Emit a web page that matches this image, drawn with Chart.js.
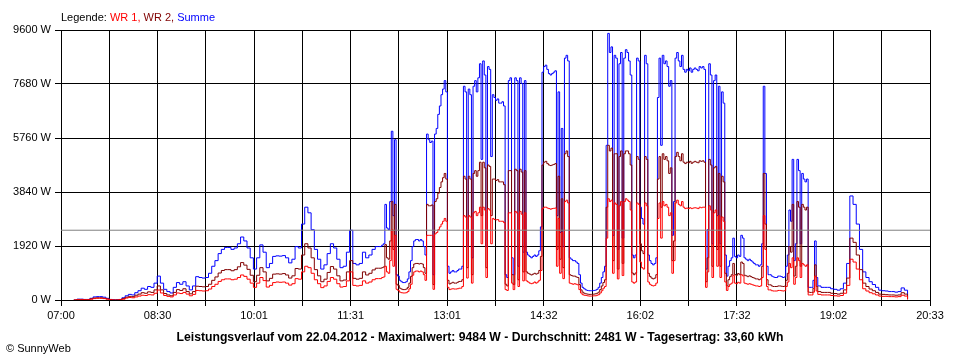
<!DOCTYPE html>
<html><head><meta charset="utf-8">
<script src="https://cdn.jsdelivr.net/npm/chart.js@4/dist/chart.umd.min.js"></script>
<style>html,body{margin:0;padding:0;background:#fff;}</style>
</head><body>
<canvas id="c" width="960" height="360" style="display:block"></canvas>
<script>
// Sampling grid: [first, last, step] in minutes after 07:00 (finer where the curve is spiky)
const sampleSegments = [[12, 297, 3], [300, 708, 1.5], [711, 792, 3]];
const X_MAX_MIN = 813; // 20:33
const xTickLabels = ['07:00','08:30','10:01','11:31','13:01','14:32','16:02','17:32','19:02','20:33'];
const yTickMax = 9600;
const yTickStep = 1920;
const average = 2481;
const legendParts = [['Legende: ', '#000000'], ['WR 1, ', '#FF0000'], ['WR 2, ', '#800000'], ['Summe', '#0000FF']];
const titleText = 'Leistungsverlauf vom 22.04.2012 - Maximalwert: 9484 W - Durchschnitt: 2481 W - Tagesertrag: 33,60 kWh';
const footerText = '\u00A9 SunnyWeb';

const summe = [
// 07:12 - 11:57 (3 min)
0,30,30,20,20,60,110,120,120,100,
60,20,10,10,20,80,150,200,180,260,
330,420,380,480,450,600,850,600,380,300,
250,450,620,560,650,500,360,500,830,800,
780,800,950,1200,1400,1650,1800,1870,1870,1800,
1850,2000,2240,2100,1850,1500,1100,1500,1960,1700,
1150,1300,1550,1570,1560,1580,1500,1320,1450,1900,
1850,2700,3300,3100,2500,1800,1450,1100,1250,1650,
2000,1850,1450,1150,1200,1700,2480,1300,1250,1300,
1700,1500,1600,1800,1900,1900,
// 12:00 - 18:48 (1.5 min)
1950,2000,3400,2560,2500,3500,6000,3000,5700,900,
850,700,650,620,620,650,750,1000,1400,1900,
2100,2150,2150,2100,2150,2100,1900,1600,5900,5700,
5600,5650,900,5900,6100,6600,6900,7300,7500,7800,
7400,1200,950,1000,1050,1000,1000,1050,1100,1100,
1200,7600,7400,1900,7500,7300,1500,7600,7800,7400,
7900,8400,5000,8500,8000,1900,8300,8200,5100,7300,
7200,7100,7150,7000,7000,7050,6900,900,800,7800,
7900,1500,900,7900,7800,1200,7900,7700,1700,7800,
1700,1600,1550,1500,1550,1600,1550,1600,1750,2600,
8100,8300,8350,8200,8050,8000,8050,8100,8150,3000,
7400,2400,6100,1900,8600,8700,8500,1500,1450,1400,
1400,1350,1300,900,600,450,400,360,340,330,
330,330,340,350,380,450,600,800,1000,1200,
5500,9480,8800,9000,2300,8700,8600,1800,8400,8800,
2200,8600,8900,8800,8500,8000,1600,1500,1600,8600,
8500,3300,2900,2700,8700,8400,1600,1400,1300,1250,
1300,1500,7200,8600,5500,8700,8400,8500,8300,7600,
7800,2300,3500,8600,8800,8500,8300,8700,8200,8100,
8200,8150,8250,8100,8200,8250,8200,8150,8300,8250,
8300,8200,1100,2500,8400,8000,2000,7800,8000,3000,
7600,2000,7400,7000,1600,850,1200,1400,1500,2200,
1550,1500,1600,1550,2300,2200,1500,1450,1400,1450,
1400,1350,1300,1250,1250,1200,1250,2000,7600,4500,
1200,
900,900,850,820,800,800,850,850,830,800,
820,1200,1600,3200,2800,5000,1400,2000,5000,4600,
2000,4500,4300,4200,4300,450,450,450,700,2100,
800,500,
// 18:51 - 20:12 (3 min)
450,450,450,400,380,350,400,
600,1300,3700,3400,2700,1800,1000,800,650,550,
450,350,330,320,300,300,280,300,430,350,
50
];

const wr2 = [
0,20,20,10,10,40,70,80,80,60,
40,10,0,0,10,50,100,130,120,170,
210,260,240,290,270,360,500,360,230,180,
150,270,370,340,400,300,220,300,490,480,
470,480,560,700,820,960,1050,1080,1080,1040,
1080,1180,1330,1240,1090,880,650,880,1150,1000,
680,770,920,930,920,940,890,780,860,1120,
1100,1600,2000,1850,1500,1080,860,650,740,980,
1190,1100,860,680,710,1000,1400,770,740,770,
1000,890,950,1070,1130,1130,
1150,1180,1970,1500,1450,2100,3500,1800,3400,560,
520,420,390,370,370,390,450,600,840,1150,
1280,1300,1300,1280,1300,1280,1150,950,3400,3350,
3350,3380,550,3500,3600,3800,4000,4200,4350,4500,
4300,700,570,600,630,600,600,630,660,660,
720,4400,4300,1150,4400,4300,900,4500,4600,4400,
4600,4900,3000,4900,4700,1150,4800,4750,3000,4300,
4300,4250,4280,4200,4200,4200,4100,560,500,4600,
4600,900,550,4650,4600,720,4650,4550,1000,4600,
1000,950,920,890,920,950,920,950,1050,1550,
4800,4900,4930,4850,4800,4780,4800,4820,4850,1800,
4400,1450,3600,1150,5200,5300,5100,900,870,850,
850,820,800,550,360,280,240,220,210,200,
200,200,210,220,240,280,370,500,620,720,
3300,5500,5300,5400,1400,5200,5200,1100,5100,5300,
1300,5200,5300,5300,5200,4800,960,900,960,5100,
5000,2000,1750,1650,5100,5000,950,840,780,750,
780,900,4300,5100,3300,5200,5000,5100,4950,4500,
4700,1400,2100,5100,5250,5100,4950,5200,4900,4850,
4900,4880,4930,4860,4900,4930,4900,4880,4950,4930,
4950,4900,650,1500,5000,4800,1200,4700,4750,1800,
4500,1200,4400,4200,950,500,720,830,900,1300,
900,880,940,900,1350,1300,880,860,830,860,
830,800,780,750,750,720,750,1200,4500,2700,
720,
540,540,500,480,480,480,500,500,490,480,
490,700,950,1900,1700,3400,850,1200,3500,3300,
1200,3400,3300,3200,3300,280,270,270,420,1250,
480,300,
270,270,270,240,230,210,240,
360,780,2200,2050,1600,1080,600,480,390,330,
270,210,200,190,180,180,170,180,260,210,
30
];

const wr1 = [
0,10,10,10,10,30,50,60,60,50,
30,10,0,0,10,30,70,90,80,110,
140,170,160,190,180,240,355,250,160,130,
110,180,250,230,270,210,150,200,340,330,
320,330,390,480,560,660,720,750,750,720,
740,800,890,840,740,600,450,600,800,690,
460,520,620,640,630,640,600,530,580,760,
740,1000,1200,1150,950,720,580,440,500,660,
800,740,580,460,480,680,1000,520,500,520,
680,600,640,720,760,760,
800,820,1200,1000,950,1400,2500,1200,2300,380,
340,280,260,250,250,260,300,400,560,880,
1000,1030,1030,1000,1030,1000,900,700,2300,2300,
2300,2300,380,2350,2400,2500,2600,2700,2800,2900,
2800,450,370,390,400,390,390,400,420,420,
480,3000,2950,780,3000,2950,600,3100,3150,3000,
3100,3300,2000,3300,3200,800,3250,3200,2000,2900,
2860,2850,2860,2800,2800,2800,2750,370,340,3100,
3100,600,370,3150,3100,480,3150,3050,680,3100,
680,640,600,580,600,640,600,640,700,1050,
3250,3300,3300,3270,3250,3230,3250,3260,3270,1200,
2900,950,2400,760,3500,3550,3450,600,580,560,
580,560,540,370,250,190,170,160,150,140,
140,140,150,150,170,190,250,330,420,480,
2200,3600,3500,3550,950,3450,3400,750,3350,3500,
870,3500,3600,3550,3500,3200,640,600,640,3450,
3400,1350,1150,1100,3450,3350,640,560,520,500,
520,600,2900,3450,2200,3500,3350,3400,3300,3000,
3100,950,1400,3450,3550,3400,3350,3500,3300,3250,
3270,3250,3280,3250,3270,3280,3270,3250,3300,3280,
3300,3300,450,1000,3350,3200,800,3100,3200,1200,
3000,800,2950,2800,640,340,480,560,600,880,
600,580,630,600,900,860,600,580,560,580,
560,540,520,500,500,480,500,800,3000,1800,
480,
360,360,330,320,320,320,340,340,330,320,
330,480,640,1300,1150,1500,560,800,1500,1400,
800,1300,1250,1200,1250,180,180,180,280,850,
320,200,
180,180,180,160,150,140,160,
240,520,1450,1350,1100,720,400,320,260,220,
180,140,130,130,120,120,110,120,170,140,
20
];

// Sample times (minutes after 07:00) from the sampling grid
const times = [];
sampleSegments.forEach(([a, b, s]) => { for (let k = 0; a + k * s <= b + 1e-9; k++) times.push(a + k * s); });

const toPoints = arr => arr.map((v, i) => ({ x: times[i], y: v }));

const FONT = '"Liberation Sans", Arial, sans-serif';

const textPlugin = {
  id: 'texts',
  afterDraw(chart) {
    const ctx = chart.ctx;
    ctx.save();
    ctx.textBaseline = 'alphabetic';
    ctx.textAlign = 'left';
    ctx.font = '11px ' + FONT;
    let x = 61;
    legendParts.forEach(([t, c]) => {
      ctx.fillStyle = c;
      ctx.fillText(t, x, 21);
      x += ctx.measureText(t).width;
    });
    ctx.fillStyle = '#000';
    ctx.fillText(footerText, 6, 352);
    ctx.font = 'bold 12px ' + FONT;
    const w = ctx.measureText(titleText).width;
    ctx.translate(480, 341);
    ctx.scale(607 / w, 1);
    ctx.textAlign = 'center';
    ctx.fillText(titleText, 0, 0);
    ctx.restore();
  }
};

new Chart(document.getElementById('c'), {
  type: 'line',
  data: {
    datasets: [
      { label: 'Durchschnitt', data: [{x: 0, y: average}, {x: X_MAX_MIN, y: average}], borderColor: '#808080', borderWidth: 1, pointRadius: 0 },
      { label: 'WR 1', data: toPoints(wr1), borderColor: '#FF0000', borderWidth: 1, pointRadius: 0, stepped: true },
      { label: 'WR 2', data: toPoints(wr2), borderColor: '#800000', borderWidth: 1, pointRadius: 0, stepped: true },
      { label: 'Summe', data: toPoints(summe), borderColor: '#0000FF', borderWidth: 1, pointRadius: 0, stepped: true }
    ]
  },
  options: {
    responsive: false,
    animation: false,
    devicePixelRatio: 1,
    layout: { padding: { left: 0, right: 30, top: 30, bottom: 0 } },
    plugins: { legend: { display: false }, tooltip: { enabled: false }, title: { display: false } },
    scales: {
      x: {
        type: 'linear', min: 0, max: X_MAX_MIN,
        afterBuildTicks: s => { s.ticks = Array.from({length: 19}, (_, k) => ({ value: k * X_MAX_MIN / 18 })); },
        afterFit: s => { s.height = 60; },
        grid: { color: '#000', lineWidth: 1, tickLength: 6, drawTicks: true },
        border: { color: '#000', width: 1 },
        ticks: {
          autoSkip: false, maxRotation: 0, padding: 3, color: '#000',
          font: { family: FONT, size: 11 },
          callback: (v, i) => (i % 2 === 0 ? xTickLabels[i / 2] : '')
        }
      },
      y: {
        min: 0, max: yTickMax,
        afterFit: s => { s.width = 61; },
        grid: { color: '#000', lineWidth: 1, tickLength: 6 },
        border: { color: '#000', width: 1 },
        ticks: {
          stepSize: yTickStep, padding: 4, color: '#000',
          font: { family: FONT, size: 11 },
          callback: v => v + ' W'
        }
      }
    }
  },
  plugins: [textPlugin]
});
</script>
</body></html>
